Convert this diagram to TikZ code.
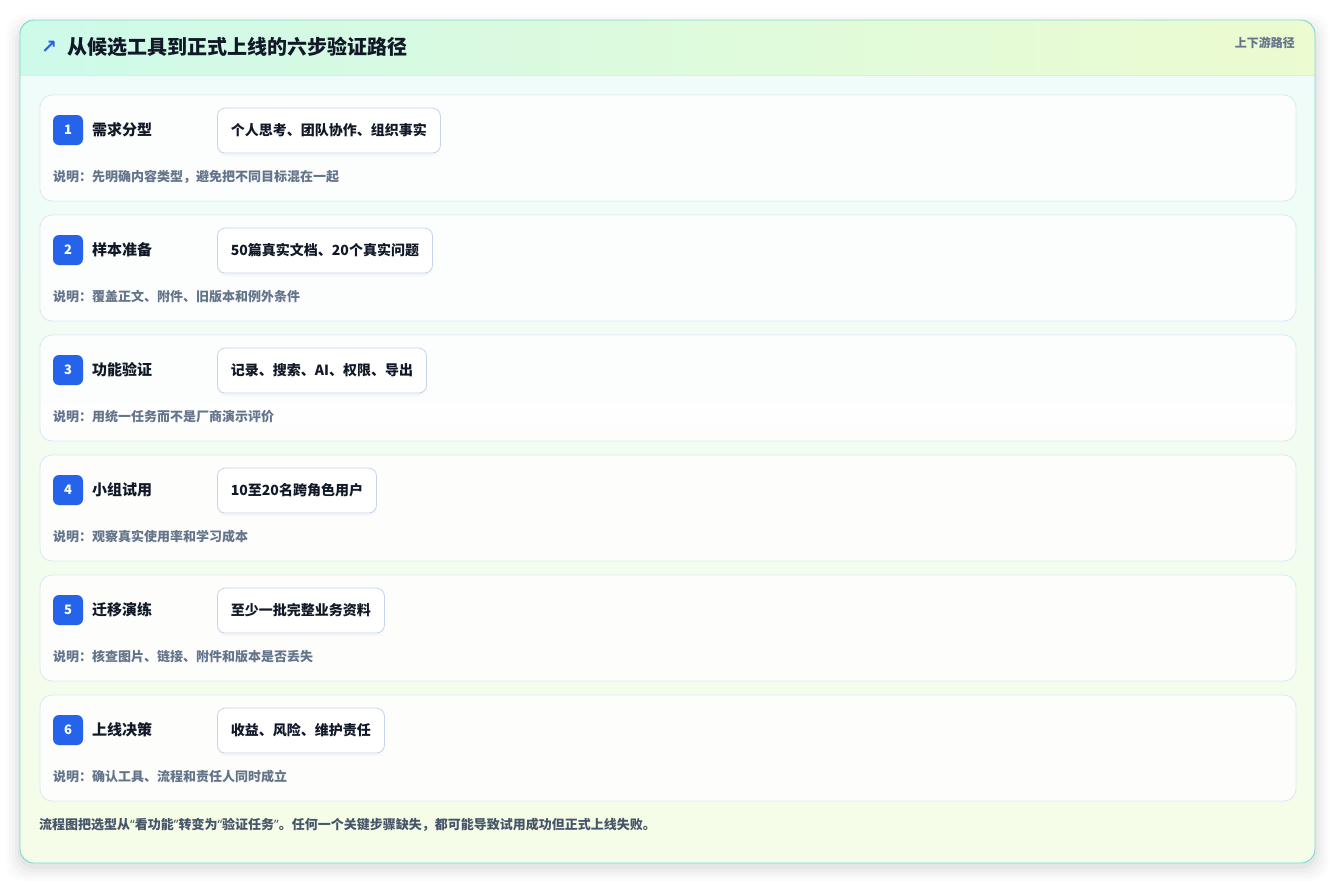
\documentclass[tikz,border=0pt]{standalone}
\usepackage{fontspec}
\setmainfont{Noto Sans CJK SC}
\newfontfamily\arrowfont{DejaVu Sans}
\newfontfamily\quotefont{Noto Sans}
\usetikzlibrary{positioning,shadows}

\definecolor{frameline}{RGB}{120,218,204}
\definecolor{headleft}{RGB}{206,250,234}
\definecolor{headright}{RGB}{236,251,208}
\definecolor{bodytop}{RGB}{239,252,249}
\definecolor{bodybottom}{RGB}{245,253,232}
\definecolor{headrule}{RGB}{214,240,232}
\definecolor{cardline}{RGB}{218,232,243}
\definecolor{pillline}{RGB}{196,214,238}
\definecolor{badgeblue}{RGB}{37,99,235}
\definecolor{darktext}{RGB}{17,24,39}
\definecolor{notegray}{RGB}{100,116,139}
\definecolor{footgray}{RGB}{71,85,105}

\newcommand{\openq}{{\quotefont\bfseries “}}
\newcommand{\closeq}{{\quotefont\bfseries ”}}

\begin{document}
\begin{tikzpicture}[x=1pt, y=-1pt,
    card/.style={draw=cardline, line width=0.8pt, fill=white, fill opacity=0.85, rounded corners=12pt},
    badge/.style={fill=badgeblue, rounded corners=6pt, minimum size=30pt, inner sep=0pt,
        text=white, font=\fontsize{13}{15}\selectfont\bfseries},
    steptitle/.style={anchor=west, inner sep=0pt, text=darktext, font=\fontsize{15}{18}\selectfont\bfseries},
    pill/.style={anchor=west, draw=pillline, line width=0.8pt, fill=white, rounded corners=8pt,
        minimum height=45pt, inner xsep=13.5pt, text=darktext, font=\fontsize{14}{17}\selectfont\bfseries,
        drop shadow={opacity=0.05, shadow xshift=0pt, shadow yshift=-3pt}},
    note/.style={anchor=west, inner sep=0pt, text=notegray, font=\fontsize{13}{16}\selectfont\bfseries}]

    \useasboundingbox (0,0) rectangle (1336,884);

    % soft shadow of the frame
    \foreach \s/\o in {14/0.012,11/0.015,8/0.02,5/0.025,2/0.03}
        \fill[black, opacity=\o, rounded corners=18pt] (20-\s,24-\s+4) rectangle (1315+\s,863+\s+4);

    % frame
    \begin{scope}
        \clip[rounded corners=14pt] (20,20) rectangle (1315,863);
        \shade[top color=bodytop, bottom color=bodybottom] (20,75) rectangle (1315,863);
        \shade[left color=headleft, right color=headright] (20,20) rectangle (1315,75);
        \draw[headrule] (20,75) -- (1315,75);
    \end{scope}
    \draw[frameline, line width=0.9pt, rounded corners=14pt] (20,20) rectangle (1315,863);

    % header
    \node[anchor=center, inner sep=0pt, text=badgeblue, font=\arrowfont\fontsize{19}{22}\selectfont\bfseries]
        (arrow) at (49,47) {↗};
    \node[anchor=west, inner sep=0pt, text=darktext, font=\fontsize{20}{24}\selectfont\bfseries]
        (title) at (67,47) {从候选工具到正式上线的六步验证路径};
    \node[anchor=east, inner sep=0pt, text=notegray, font=\fontsize{12}{14}\selectfont\bfseries]
        (side) at (1295,43) {上下游路径};

    % step 1
    \draw[card] (40,95) rectangle (1296,201);
    \node[badge] (badge1) at (68,130) {1};
    \node[steptitle] (title1) at (92,130) {需求分型};
    \node[pill] (pill1) at (217,130.5) {个人思考、团队协作、组织事实};
    \node[note] (note1) at (53,177) {说明：先明确内容类型，避免把不同目标混在一起};

    % step 2
    \draw[card] (40,215) rectangle (1296,321);
    \node[badge] (badge2) at (68,250) {2};
    \node[steptitle] (title2) at (92,250) {样本准备};
    \node[pill] (pill2) at (217,250.5) {50篇真实文档、20个真实问题};
    \node[note] (note2) at (53,297) {说明：覆盖正文、附件、旧版本和例外条件};

    % step 3
    \draw[card] (40,335) rectangle (1296,441);
    \node[badge] (badge3) at (68,370) {3};
    \node[steptitle] (title3) at (92,370) {功能验证};
    \node[pill] (pill3) at (217,370.5) {记录、搜索、AI、权限、导出};
    \node[note] (note3) at (53,417) {说明：用统一任务而不是厂商演示评价};

    % step 4
    \draw[card] (40,455) rectangle (1296,561);
    \node[badge] (badge4) at (68,490) {4};
    \node[steptitle] (title4) at (92,490) {小组试用};
    \node[pill] (pill4) at (217,490.5) {10至20名跨角色用户};
    \node[note] (note4) at (53,537) {说明：观察真实使用率和学习成本};

    % step 5
    \draw[card] (40,575) rectangle (1296,681);
    \node[badge] (badge5) at (68,610) {5};
    \node[steptitle] (title5) at (92,610) {迁移演练};
    \node[pill] (pill5) at (217,610.5) {至少一批完整业务资料};
    \node[note] (note5) at (53,657) {说明：核查图片、链接、附件和版本是否丢失};

    % step 6
    \draw[card] (40,695) rectangle (1296,801);
    \node[badge] (badge6) at (68,730) {6};
    \node[steptitle] (title6) at (92,730) {上线决策};
    \node[pill] (pill6) at (217,730.5) {收益、风险、维护责任};
    \node[note] (note6) at (53,777) {说明：确认工具、流程和责任人同时成立};

    % footer
    \node[anchor=west, inner sep=0pt, text=footgray, font=\fontsize{13}{16}\selectfont\bfseries]
        (footer) at (39,825) {流程图把选型从\openq 看功能\closeq 转变为\openq 验证任务\closeq 。任何一个关键步骤缺失，都可能导致试用成功但正式上线失败。};

\end{tikzpicture}
\end{document}
